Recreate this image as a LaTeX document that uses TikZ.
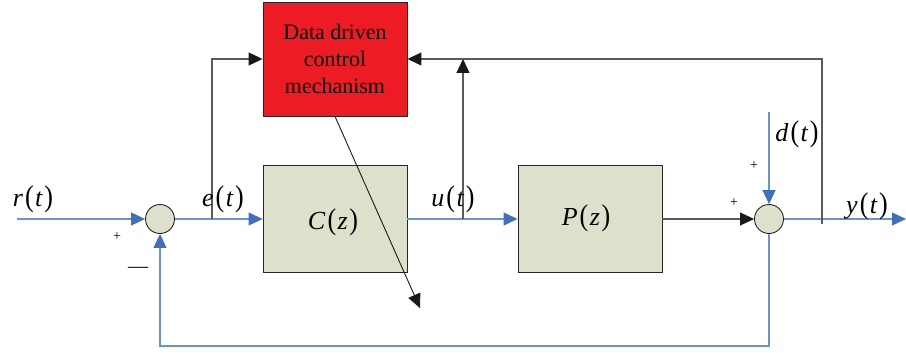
\documentclass[tikz,border=0pt]{standalone}
\usepackage{fontspec}
\setmainfont{Liberation Serif}
\usetikzlibrary{arrows.meta}
\definecolor{sigblue}{RGB}{104,146,208}
\definecolor{tipblue}{RGB}{62,112,190}
\definecolor{boxgreen}{RGB}{221,225,203}
\definecolor{ddred}{RGB}{237,28,36}
\definecolor{wiregray}{RGB}{90,90,90}
\newcommand\mlab[2]{\textit{#1}\kern2pt\scalebox{1}[1.15]{(}\kern1.5pt\textit{#2}\kern1.5pt\scalebox{1}[1.15]{)}}
\tikzset{
  bluetip/.style={-{Triangle[length=14pt,width=13pt,color=tipblue]}},
  blacktip/.style={-{Triangle[length=14pt,width=13pt,color=black!90]}},
  sigline/.style={draw=sigblue,line width=1.1pt},
  wire/.style={draw=wiregray,line width=1.1pt},
  blockbox/.style={draw=black!85,line width=0.9pt,fill=boxgreen,minimum width=144pt,minimum height=107pt,inner sep=0pt},
  sumnode/.style={circle,draw=black!85,line width=0.9pt,fill=boxgreen,minimum size=29pt,inner sep=0pt},
  mathlbl/.style={font=\fontsize{26}{30}\selectfont,inner sep=0pt},
  signlbl/.style={font=\fontsize{14}{16}\selectfont,inner sep=0pt},
}
\begin{document}
\begin{tikzpicture}[x=1pt,y=-1pt]
\useasboundingbox (0,0) rectangle (906,353);
% blocks
\node[blockbox] (C) at (335,219) {};
\node[blockbox] (P) at (590,219) {};
\node[blockbox,fill=ddred,minimum height=114pt,align=center,font=\fontsize{22}{27}\selectfont] (D) at (335,59) {Data driven\\control\\mechanism};
\node[sumnode] (s1) at (160,219) {};
\node[sumnode] (s2) at (769,219) {};
% coordinates
\coordinate (rin) at (17,219);
\coordinate (eb) at (212,219);
\coordinate (ub) at (463,219);
\coordinate (uj) at (463,59);
\coordinate (yb) at (822,224);
\coordinate (yout) at (906,219);
\coordinate (din) at (769,112);
\coordinate (fb) at (769,346);
\coordinate (fbl) at (160,346);
\coordinate (dend) at (420,308);
% signal paths
\draw[sigline,bluetip] (rin) -- (s1);
\draw[sigline,bluetip] (s1) -- (C);
\draw[sigline,bluetip] (C) -- (P);
\draw[wire,blacktip] (P) -- (s2);
\draw[sigline,bluetip] (s2) -- (yout);
\draw[sigline,bluetip] (din) -- (s2);
\draw[sigline,bluetip] (s2) -- (fb) -- (fbl) -- (s1);
% adaptation paths
\draw[wire,blacktip] (eb) |- (D.west);
\draw[wire,blacktip] (ub) -- (uj);
\draw[wire,blacktip] (yb) |- (D.east);
\draw[line width=0.9pt,draw=black!90,blacktip] (D.south) -- (dend);
% labels
\node[mathlbl] (Ct) at (333,222) {\mlab{C}{z}};
\node[mathlbl] (Pt) at (586,218) {\mlab{P}{z}};
\node[mathlbl] (rt) at (33,199) {\mlab{r}{t}};
\node[mathlbl] (et) at (223,199) {\mlab{e}{t}};
\node[mathlbl] (ut) at (453,199) {\mlab{u}{t}};
\node[mathlbl] (dt) at (797,134) {\mlab{d}{t}};
\node[mathlbl] (yt) at (867,206) {\mlab{y}{t}};
\node[signlbl] (p1) at (117,237) {+};
\node[signlbl,font=\fontsize{20}{22}\selectfont] (m1) at (138,270) {—};
\node[signlbl] (p2) at (734,203) {+};
\node[signlbl] (p3) at (754,166) {+};
\end{tikzpicture}
\end{document}
